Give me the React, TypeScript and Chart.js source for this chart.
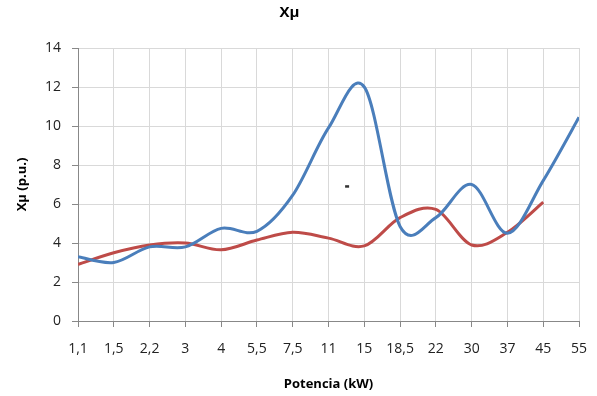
import React, { useEffect, useRef } from "react";
import { Chart, registerables } from "chart.js";

Chart.register(...registerables);

const categories = ["1,1", "1,5", "2,2", "3", "4", "5,5", "7,5", "11", "15", "18,5", "22", "30", "37", "45", "55"];
const seriesBlue = [3.3, 3.0, 3.8, 3.8, 4.75, 4.6, 6.45, 9.9, 12.0, 4.85, 5.3, 7.0, 4.5, 7.2, 10.45];
const seriesRed = [2.9, 3.5, 3.9, 4.0, 3.65, 4.15, 4.55, 4.25, 3.85, 5.3, 5.72, 3.9, 4.55, 6.1, null];
const strayMark = [{ x: 7.52, y: 6.9 }];
const yTicks = [0, 2, 4, 6, 8, 10, 12, 14];

const FONT = "'Open Sans', 'DejaVu Sans', sans-serif";

// Excel-style smoothing: uniform Catmull-Rom control points
const excelSmooth = {
  id: "excelSmooth",
  beforeDatasetsDraw(chart: any) {
    chart.data.datasets.forEach((ds: any, di: number) => {
      if (!ds.excelSmooth) return;
      const meta = chart.getDatasetMeta(di);
      const line = meta.dataset;
      if (!line) return;
      line.updateControlPoints(chart.chartArea, meta.indexAxis || "x");
      const pts = line.points || meta.data;
      const n = pts.length;
      for (let i = 0; i < n; i++) {
        const p = pts[i];
        const prev = pts[Math.max(0, i - 1)];
        const next = pts[Math.min(n - 1, i + 1)];
        const dx = (next.x - prev.x) / 6;
        const dy = (next.y - prev.y) / 6;
        p.cp1x = p.x - dx;
        p.cp1y = p.y - dy;
        p.cp2x = p.x + dx;
        p.cp2y = p.y + dy;
      }
    });
  },
};

export default function App() {
  const ref = useRef<HTMLCanvasElement | null>(null);
  useEffect(() => {
    if (!ref.current) return;
    const toXY = (arr: (number | null)[]) =>
      arr.map((v, i) => ({ x: i, y: v })).filter((p) => p.y !== null);
    const chart = new Chart(ref.current, {
      type: "line",
      data: {
        datasets: [
          {
            label: "A",
            data: toXY(seriesBlue) as any,
            borderColor: "#4A7EBB",
            borderWidth: 3,
            pointRadius: 0,
            tension: 0.4,
            fill: false,
            excelSmooth: true,
          } as any,
          {
            label: "B",
            data: toXY(seriesRed) as any,
            borderColor: "#BE4B48",
            borderWidth: 3,
            pointRadius: 0,
            tension: 0.4,
            fill: false,
            excelSmooth: true,
          } as any,
          {
            label: "C",
            data: strayMark as any,
            showLine: false,
            pointStyle: "line",
            pointRadius: 2,
            backgroundColor: "#333333",
            borderColor: "#333333",
            borderWidth: 2.5,
          } as any,
        ],
      },
      options: {
        animation: false,
        responsive: false,
        maintainAspectRatio: false,
        layout: { padding: { left: 0, right: 18, top: 0, bottom: 0 } },
        plugins: {
          legend: { display: false },
          tooltip: { enabled: false },
          title: {
            display: true,
            text: "Xμ",
            color: "#000",
            font: { family: FONT, size: 15, weight: "bold" },
            padding: { top: 4, bottom: 26 },
          },
        },
        scales: {
          x: {
            type: "linear",
            min: 0,
            max: categories.length - 1,
            afterBuildTicks: (scale: any) => {
              scale.ticks = categories.map((_, i) => ({ value: i }));
            },
            afterFit: (scale: any) => {
              scale.height = 396 - 321;
              scale.paddingLeft = 0;
              scale.paddingRight = 0;
            },
            ticks: {
              callback: (v: any) => categories[Math.round(Number(v))] ?? "",
              color: "#222",
              font: { family: FONT, size: 14 },
              padding: 14,
              maxRotation: 0,
              autoSkip: false,
            },
            grid: {
              color: "#D9D9D9",
              lineWidth: 1,
              tickLength: 6,
              tickColor: "#888",
            },
            border: { color: "#888", width: 1 },
            title: {
              display: true,
              text: "Potencia (kW)",
              color: "#000",
              font: { family: FONT, size: 13, weight: "bold" },
              padding: { top: 0, bottom: 4 },
            },
          },
          y: {
            min: 0,
            max: 14,
            afterBuildTicks: (scale: any) => {
              scale.ticks = yTicks.map((v) => ({ value: v }));
            },
            afterFit: (scale: any) => {
              scale.width = 78;
            },
            ticks: {
              color: "#222",
              font: { family: FONT, size: 14 },
              padding: 11,
            },
            grid: {
              color: "#D9D9D9",
              lineWidth: 1,
              tickLength: 6,
              tickColor: "#888",
            },
            border: { color: "#888", width: 1 },
            title: {
              display: true,
              text: "Xμ (p.u.)",
              color: "#000",
              font: { family: FONT, size: 13, weight: "bold" },
              padding: { top: 14, bottom: 0 },
            },
          },
        },
      } as any,
      plugins: [excelSmooth],
    });
    return () => chart.destroy();
  }, []);
  return (
    <div style={{ position: "fixed", left: 0, top: 0, width: 597, height: 396, background: "#fff" }}>
      <canvas ref={ref} width={597} height={396} style={{ width: 597, height: 396 }} />
    </div>
  );
}
